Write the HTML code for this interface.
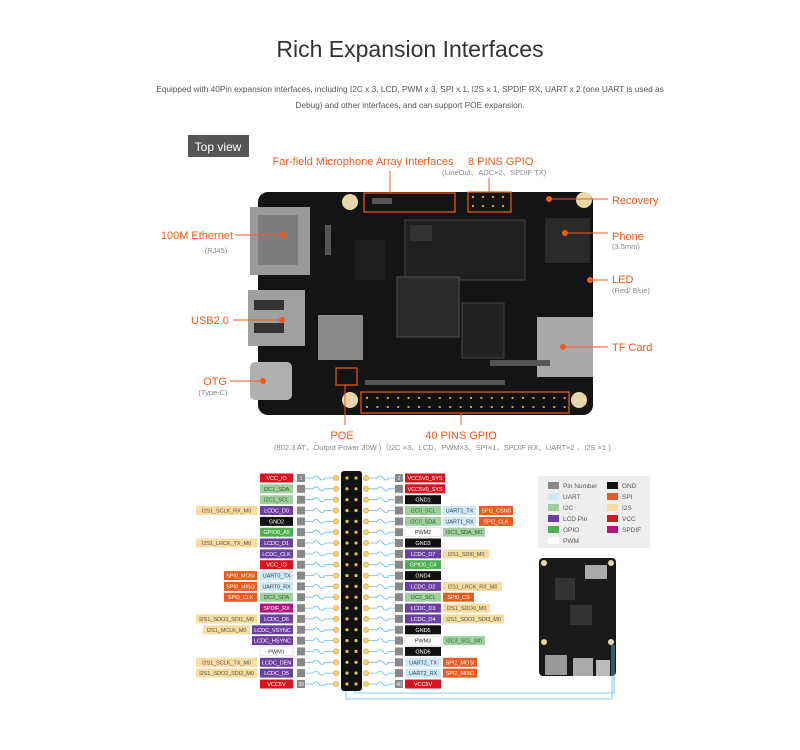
<!DOCTYPE html>
<html><head><meta charset="utf-8"><style>
body{margin:0;background:#fff;width:800px;height:745px;overflow:hidden;font-family:"Liberation Sans",sans-serif}
</style></head><body>
<svg width="800" height="745" viewBox="0 0 800 745" xmlns="http://www.w3.org/2000/svg" font-family="Liberation Sans, sans-serif">
<text x="410" y="57" font-size="23" fill="#333" text-anchor="middle">Rich Expansion Interfaces</text>
<text x="410" y="92" font-size="8.3" fill="#555" text-anchor="middle">Equipped with 40Pin expansion interfaces, including I2C x 3, LCD, PWM x 3, SPI x 1, I2S x 1, SPDIF RX, UART x 2 (one UART is used as</text>
<text x="410" y="108" font-size="8.3" fill="#555" text-anchor="middle">Debug) and other interfaces, and can support POE expansion.</text>
<rect x="188" y="135" width="61" height="22" fill="#555"/>
<text x="218" y="151" font-size="12" fill="#fff" text-anchor="middle">Top view</text>

<!-- board -->
<rect x="258" y="192" width="335" height="223" rx="10" fill="#141414"/>
<rect x="250" y="207" width="60" height="68" fill="#9a9a9a"/><rect x="258" y="215" width="40" height="50" fill="#7d7d7d"/>
<rect x="248" y="290" width="57" height="56" fill="#a0a0a0"/><rect x="254" y="300" width="30" height="10" fill="#333"/><rect x="254" y="323" width="30" height="10" fill="#333"/>
<rect x="250" y="362" width="42" height="38" rx="5" fill="#b0b0b0"/>
<rect x="537" y="317" width="56" height="60" fill="#a8a8a8"/>
<rect x="405" y="220" width="120" height="60" fill="#202020" stroke="#444"/>
<rect x="397" y="277" width="62" height="60" fill="#2a2a2a" stroke="#555"/>
<rect x="462" y="303" width="42" height="55" fill="#222" stroke="#444"/>
<rect x="318" y="315" width="45" height="45" fill="#8a8a8a"/>
<rect x="545" y="218" width="45" height="45" fill="#2a2a2a"/>
<rect x="410" y="225" width="22" height="16" fill="#333"/><rect x="355" y="240" width="30" height="40" fill="#1e1e1e"/>
<g fill="#555"><rect x="372" y="198" width="20" height="6"/><rect x="325" y="225" width="6" height="30"/><rect x="490" y="360" width="60" height="6"/><rect x="365" y="380" width="140" height="5"/></g>
<circle cx="350" cy="202" r="8" fill="#e8d8a8"/><circle cx="584" cy="200" r="8" fill="#e8d8a8"/><circle cx="350" cy="400" r="8" fill="#e8d8a8"/><circle cx="579" cy="400" r="8" fill="#e8d8a8"/>
<rect x="364" y="193" width="91" height="19" fill="none" stroke="#f05a1a" stroke-width="1.2"/>
<rect x="468" y="192" width="43" height="20" fill="none" stroke="#f05a1a" stroke-width="1.2"/>
<rect x="336" y="368" width="21" height="17" fill="none" stroke="#f05a1a" stroke-width="1.2"/>
<rect x="361" y="392" width="208" height="21" fill="#111" stroke="#f05a1a" stroke-width="1.2"/>
<g stroke="#c8a040" stroke-width="2" stroke-dasharray="2,8.4"><line x1="366" y1="398" x2="566" y2="398"/><line x1="366" y1="407" x2="566" y2="407"/></g>
<g fill="#c8a040"><circle cx="473" cy="197" r="1.2"/><circle cx="483" cy="197" r="1.2"/><circle cx="493" cy="197" r="1.2"/><circle cx="503" cy="197" r="1.2"/><circle cx="473" cy="206" r="1.2"/><circle cx="483" cy="206" r="1.2"/><circle cx="493" cy="206" r="1.2"/><circle cx="503" cy="206" r="1.2"/></g>
<g stroke="#f05a1a" stroke-width="1" fill="none">
<line x1="390" y1="171" x2="390" y2="193"/><line x1="489" y1="178" x2="489" y2="192"/>
<line x1="235" y1="235" x2="283" y2="235"/><line x1="233" y1="320" x2="282" y2="320"/><line x1="230" y1="381" x2="263" y2="381"/>
<line x1="345" y1="385" x2="345" y2="425"/><line x1="461" y1="413" x2="461" y2="425"/>
<line x1="549" y1="199" x2="608" y2="199"/><line x1="565" y1="233" x2="608" y2="233"/><line x1="590" y1="280" x2="608" y2="280"/><line x1="563" y1="347" x2="608" y2="347"/>
</g>
<g fill="#f05a1a"><circle cx="283" cy="235" r="3"/><circle cx="282" cy="320" r="3"/><circle cx="263" cy="381" r="3"/><circle cx="549" cy="199" r="3"/><circle cx="565" cy="233" r="3"/><circle cx="590" cy="280" r="3"/><circle cx="563" cy="347" r="3"/></g>
<g fill="#f05a1a" font-size="11">
<text x="363" y="165" text-anchor="middle">Far-field Microphone Array Interfaces</text>
<text x="468" y="165">8 PINS GPIO</text>
<text x="612" y="204">Recovery</text>
<text x="612" y="240">Phone</text>
<text x="612" y="283">LED</text>
<text x="612" y="351">TF Card</text>
<text x="233" y="239" text-anchor="end">100M Ethernet</text>
<text x="191" y="324">USB2.0</text>
<text x="227" y="385" text-anchor="end">OTG</text>
<text x="342" y="439" text-anchor="middle">POE</text>
<text x="461" y="439" text-anchor="middle">40 PINS GPIO</text>
</g>
<g fill="#888" font-size="7.5">
<text x="442" y="175">(LineOut、ADC×2、SPDIF TX)</text>
<text x="612" y="249">(3.5mm)</text>
<text x="612" y="293">(Red/ Blue)</text>
<text x="216" y="253" text-anchor="middle">(RJ45)</text>
<text x="213" y="395" text-anchor="middle">(Type-C)</text>
<text x="274" y="450">(802.3 AT、Output Power 30W )（I2C ×3、LCD、PWM×3、SPI×1、SPDIF RX、UART×2 、I2S ×1 )</text>
</g>

<!-- legend -->
<rect x="538" y="476" width="112" height="72" fill="#eee"/>
<g font-size="6.5" fill="#555">
<rect x="548" y="482" width="11" height="7" fill="#888"/><text x="563" y="488">Pin Number</text>
<rect x="548" y="493" width="11" height="7" fill="#cfe9f7"/><text x="563" y="499">UART</text>
<rect x="548" y="504" width="11" height="7" fill="#9fcf9f"/><text x="563" y="510">I2C</text>
<rect x="548" y="515" width="11" height="7" fill="#6b3fa0"/><text x="563" y="521">LCD Pin</text>
<rect x="548" y="526" width="11" height="7" fill="#4caf50"/><text x="563" y="532">GPIO</text>
<rect x="548" y="537" width="11" height="7" fill="#fff"/><text x="563" y="543">PWM</text>
<rect x="607" y="482" width="11" height="7" fill="#111"/><text x="622" y="488">GND</text>
<rect x="607" y="493" width="11" height="7" fill="#ea5a1c"/><text x="622" y="499">SPI</text>
<rect x="607" y="504" width="11" height="7" fill="#f9dca0"/><text x="622" y="510">I2S</text>
<rect x="607" y="515" width="11" height="7" fill="#d7141f"/><text x="622" y="521">VCC</text>
<rect x="607" y="526" width="11" height="7" fill="#b3157f"/><text x="622" y="532">SPDIF</text>
</g>

<!-- small board -->
<rect x="539" y="558" width="77" height="118" rx="4" fill="#1a1a1a"/>
<rect x="555" y="578" width="20" height="22" fill="#333"/><rect x="570" y="605" width="22" height="20" fill="#333"/>
<rect x="545" y="655" width="22" height="20" fill="#999"/><rect x="573" y="658" width="20" height="18" fill="#aaa"/><rect x="596" y="660" width="14" height="16" fill="#bbb"/>
<rect x="585" y="565" width="22" height="14" fill="#aaa"/>
<circle cx="544" cy="563" r="3" fill="#e8d8a8"/><circle cx="611" cy="563" r="3" fill="#e8d8a8"/><circle cx="544" cy="642" r="3" fill="#e8d8a8"/><circle cx="611" cy="642" r="3" fill="#e8d8a8"/>
<polyline points="346,690 346,699 612,699 612,645" fill="none" stroke="#6bb7e3" stroke-width="0.8"/>
<polyline points="355,690 355,693 614,693 614,645" fill="none" stroke="#6bb7e3" stroke-width="0.8"/>

<!-- header -->
<rect x="341" y="471" width="21" height="220" rx="3" fill="#111"/>

<defs>
<g id="row">
<rect x="297" y="-4" width="8" height="8" fill="#888"/>
<path d="M305,0 L313,0 q3,-4 6,0 t6,0 L333,0" fill="none" stroke="#6bb7e3" stroke-width="0.8"/>
<circle cx="336" cy="0" r="2.6" fill="#f5d070" stroke="#d4a030" stroke-width="0.6"/>
<circle cx="347" cy="0" r="1.6" fill="#e8c050"/><circle cx="356" cy="0" r="1.6" fill="#e8c050"/>
<circle cx="366" cy="0" r="2.6" fill="#f5d070" stroke="#d4a030" stroke-width="0.6"/>
<path d="M369,0 L377,0 q3,-4 6,0 t6,0 L395,0" fill="none" stroke="#6bb7e3" stroke-width="0.8"/>
<rect x="395" y="-4" width="8" height="8" fill="#888"/>
</g>
</defs>
<g font-size="5.6" text-anchor="middle" letter-spacing="-0.1">
<use href="#row" y="478"/><use href="#row" y="488.8"/><use href="#row" y="499.7"/><use href="#row" y="510.5"/><use href="#row" y="521.4"/><use href="#row" y="532.2"/><use href="#row" y="543"/><use href="#row" y="553.9"/><use href="#row" y="564.7"/><use href="#row" y="575.6"/><use href="#row" y="586.4"/><use href="#row" y="597.2"/><use href="#row" y="608.1"/><use href="#row" y="618.9"/><use href="#row" y="629.8"/><use href="#row" y="640.6"/><use href="#row" y="651.4"/><use href="#row" y="662.3"/><use href="#row" y="673.1"/><use href="#row" y="684"/>

<!-- left -->
<g transform="translate(0,478)"><rect x="260" y="-4.5" width="33" height="9" fill="#d7141f"/><text x="276.5" y="2" fill="#fff">VCC_IO</text></g>
<g transform="translate(0,488.8)"><rect x="260" y="-4.5" width="33" height="9" fill="#9fcf9f"/><text x="276.5" y="2" fill="#2f5f2f">I2C1_SDA</text></g>
<g transform="translate(0,499.7)"><rect x="260" y="-4.5" width="33" height="9" fill="#9fcf9f"/><text x="276.5" y="2" fill="#2f5f2f">I2C1_SCL</text></g>
<g transform="translate(0,510.5)"><rect x="260" y="-4.5" width="33" height="9" fill="#6b3fa0"/><text x="276.5" y="2" fill="#fff">LCDC_D0</text><rect x="196" y="-4.5" width="61" height="9" fill="#f9dca0"/><text x="226.5" y="2" fill="#555">I2S1_SCLK_RX_M0</text></g>
<g transform="translate(0,521.4)"><rect x="260" y="-4.5" width="33" height="9" fill="#111"/><text x="276.5" y="2" fill="#fff">GND2</text></g>
<g transform="translate(0,532.2)"><rect x="260" y="-4.5" width="33" height="9" fill="#4caf50"/><text x="276.5" y="2" fill="#fff">GPIO0_A5</text></g>
<g transform="translate(0,543)"><rect x="260" y="-4.5" width="33" height="9" fill="#6b3fa0"/><text x="276.5" y="2" fill="#fff">LCDC_D1</text><rect x="196" y="-4.5" width="61" height="9" fill="#f9dca0"/><text x="226.5" y="2" fill="#555">I2S1_LRCK_TX_M0</text></g>
<g transform="translate(0,553.9)"><rect x="260" y="-4.5" width="33" height="9" fill="#6b3fa0"/><text x="276.5" y="2" fill="#fff">LCDC_CLK</text></g>
<g transform="translate(0,564.7)"><rect x="260" y="-4.5" width="33" height="9" fill="#d7141f"/><text x="276.5" y="2" fill="#fff">VCC_IO</text></g>
<g transform="translate(0,575.6)"><rect x="260" y="-4.5" width="33" height="9" fill="#cfe9f7"/><text x="276.5" y="2" fill="#345">UART0_TX</text><rect x="224" y="-4.5" width="33" height="9" fill="#ea5a1c"/><text x="240.5" y="2" fill="#fff">SPI0_MOSI</text></g>
<g transform="translate(0,586.4)"><rect x="260" y="-4.5" width="33" height="9" fill="#cfe9f7"/><text x="276.5" y="2" fill="#345">UART0_RX</text><rect x="224" y="-4.5" width="33" height="9" fill="#ea5a1c"/><text x="240.5" y="2" fill="#fff">SPI0_MISO</text></g>
<g transform="translate(0,597.2)"><rect x="260" y="-4.5" width="33" height="9" fill="#9fcf9f"/><text x="276.5" y="2" fill="#2f5f2f">I2C2_SDA</text><rect x="224" y="-4.5" width="33" height="9" fill="#ea5a1c"/><text x="240.5" y="2" fill="#fff">SPI0_CLK</text></g>
<g transform="translate(0,608.1)"><rect x="260" y="-4.5" width="33" height="9" fill="#b3157f"/><text x="276.5" y="2" fill="#fff">SPDIF_RX</text></g>
<g transform="translate(0,618.9)"><rect x="260" y="-4.5" width="33" height="9" fill="#6b3fa0"/><text x="276.5" y="2" fill="#fff">LCDC_D6</text><rect x="196" y="-4.5" width="61" height="9" fill="#f9dca0"/><text x="226.5" y="2" fill="#555">I2S1_SDO3_SDI1_M0</text></g>
<g transform="translate(0,629.8)"><rect x="252" y="-4.5" width="41" height="9" fill="#6b3fa0"/><text x="272.5" y="2" fill="#fff">LCDC_VSYNC</text><rect x="203" y="-4.5" width="47" height="9" fill="#f9dca0"/><text x="226.5" y="2" fill="#555">I2S1_MCLK_M0</text></g>
<g transform="translate(0,640.6)"><rect x="252" y="-4.5" width="41" height="9" fill="#6b3fa0"/><text x="272.5" y="2" fill="#fff">LCDC_HSYNC</text></g>
<g transform="translate(0,651.4)"><rect x="260" y="-4.5" width="33" height="9" fill="#fff" stroke="#ccc" stroke-width="0.5"/><text x="276.5" y="2" fill="#333">PWM1</text></g>
<g transform="translate(0,662.3)"><rect x="260" y="-4.5" width="33" height="9" fill="#6b3fa0"/><text x="276.5" y="2" fill="#fff">LCDC_DEN</text><rect x="196" y="-4.5" width="61" height="9" fill="#f9dca0"/><text x="226.5" y="2" fill="#555">I2S1_SCLK_TX_M0</text></g>
<g transform="translate(0,673.1)"><rect x="260" y="-4.5" width="33" height="9" fill="#6b3fa0"/><text x="276.5" y="2" fill="#fff">LCDC_D5</text><rect x="196" y="-4.5" width="61" height="9" fill="#f9dca0"/><text x="226.5" y="2" fill="#555">I2S1_SDO2_SDI2_M0</text></g>
<g transform="translate(0,684)"><rect x="260" y="-4.5" width="33" height="9" fill="#d7141f"/><text x="276.5" y="2" fill="#fff">VCC5V</text></g>

<!-- right -->
<g transform="translate(0,478)"><rect x="405" y="-4.5" width="40" height="9" fill="#d7141f"/><text x="425" y="2" fill="#fff">VCC5V0_SYS</text></g>
<g transform="translate(0,488.8)"><rect x="405" y="-4.5" width="40" height="9" fill="#d7141f"/><text x="425" y="2" fill="#fff">VCC5V0_SYS</text></g>
<g transform="translate(0,499.7)"><rect x="405" y="-4.5" width="36" height="9" fill="#111"/><text x="423" y="2" fill="#fff">GND1</text></g>
<g transform="translate(0,510.5)"><rect x="405" y="-4.5" width="36" height="9" fill="#9fcf9f"/><text x="423" y="2" fill="#2f5f2f">I2C0_SCL</text><rect x="443" y="-4.5" width="33" height="9" fill="#cfe9f7"/><text x="459.5" y="2" fill="#345">UART1_TX</text><rect x="479" y="-4.5" width="34" height="9" fill="#ea5a1c"/><text x="496" y="2" fill="#fff">SPI2_CSN0</text></g>
<g transform="translate(0,521.4)"><rect x="405" y="-4.5" width="36" height="9" fill="#9fcf9f"/><text x="423" y="2" fill="#2f5f2f">I2C0_SDA</text><rect x="443" y="-4.5" width="33" height="9" fill="#cfe9f7"/><text x="459.5" y="2" fill="#345">UART1_RX</text><rect x="479" y="-4.5" width="34" height="9" fill="#ea5a1c"/><text x="496" y="2" fill="#fff">SPI2_CLK</text></g>
<g transform="translate(0,532.2)"><rect x="405" y="-4.5" width="36" height="9" fill="#fff" stroke="#ccc" stroke-width="0.5"/><text x="423" y="2" fill="#333">PWM2</text><rect x="443" y="-4.5" width="42" height="9" fill="#9fcf9f"/><text x="464" y="2" fill="#2f5f2f">I2C3_SDA_M0</text></g>
<g transform="translate(0,543)"><rect x="405" y="-4.5" width="36" height="9" fill="#111"/><text x="423" y="2" fill="#fff">GND3</text></g>
<g transform="translate(0,553.9)"><rect x="405" y="-4.5" width="36" height="9" fill="#6b3fa0"/><text x="423" y="2" fill="#fff">LCDC_D7</text><rect x="443" y="-4.5" width="46" height="9" fill="#f9dca0"/><text x="466" y="2" fill="#555">I2S1_SDI0_M0</text></g>
<g transform="translate(0,564.7)"><rect x="405" y="-4.5" width="36" height="9" fill="#4caf50"/><text x="423" y="2" fill="#fff">GPIO0_C4</text></g>
<g transform="translate(0,575.6)"><rect x="405" y="-4.5" width="36" height="9" fill="#111"/><text x="423" y="2" fill="#fff">GND4</text></g>
<g transform="translate(0,586.4)"><rect x="405" y="-4.5" width="36" height="9" fill="#6b3fa0"/><text x="423" y="2" fill="#fff">LCDC_D2</text><rect x="443" y="-4.5" width="59" height="9" fill="#f9dca0"/><text x="472.5" y="2" fill="#555">I2S1_LRCK_RX_M0</text></g>
<g transform="translate(0,597.2)"><rect x="405" y="-4.5" width="36" height="9" fill="#9fcf9f"/><text x="423" y="2" fill="#2f5f2f">I2C2_SCL</text><rect x="443" y="-4.5" width="31" height="9" fill="#ea5a1c"/><text x="458.5" y="2" fill="#fff">SPI0_CS</text></g>
<g transform="translate(0,608.1)"><rect x="405" y="-4.5" width="36" height="9" fill="#6b3fa0"/><text x="423" y="2" fill="#fff">LCDC_D3</text><rect x="443" y="-4.5" width="47" height="9" fill="#f9dca0"/><text x="466.5" y="2" fill="#555">I2S1_SDO0_M0</text></g>
<g transform="translate(0,618.9)"><rect x="405" y="-4.5" width="36" height="9" fill="#6b3fa0"/><text x="423" y="2" fill="#fff">LCDC_D4</text><rect x="443" y="-4.5" width="61" height="9" fill="#f9dca0"/><text x="473.5" y="2" fill="#555">I2S1_SDO1_SDI3_M0</text></g>
<g transform="translate(0,629.8)"><rect x="405" y="-4.5" width="36" height="9" fill="#111"/><text x="423" y="2" fill="#fff">GND5</text></g>
<g transform="translate(0,640.6)"><rect x="405" y="-4.5" width="36" height="9" fill="#fff" stroke="#ccc" stroke-width="0.5"/><text x="423" y="2" fill="#333">PWM3</text><rect x="443" y="-4.5" width="42" height="9" fill="#9fcf9f"/><text x="464" y="2" fill="#2f5f2f">I2C3_SCL_M0</text></g>
<g transform="translate(0,651.4)"><rect x="405" y="-4.5" width="36" height="9" fill="#111"/><text x="423" y="2" fill="#fff">GND6</text></g>
<g transform="translate(0,662.3)"><rect x="405" y="-4.5" width="36" height="9" fill="#cfe9f7"/><text x="423" y="2" fill="#345">UART2_TX</text><rect x="443" y="-4.5" width="34" height="9" fill="#ea5a1c"/><text x="460" y="2" fill="#fff">SPI2_MOSI</text></g>
<g transform="translate(0,673.1)"><rect x="405" y="-4.5" width="36" height="9" fill="#cfe9f7"/><text x="423" y="2" fill="#345">UART2_RX</text><rect x="443" y="-4.5" width="34" height="9" fill="#ea5a1c"/><text x="460" y="2" fill="#fff">SPI2_MISO</text></g>
<g transform="translate(0,684)"><rect x="405" y="-4.5" width="36" height="9" fill="#d7141f"/><text x="423" y="2" fill="#fff">VCC5V</text></g>
</g>
<g font-size="5" fill="#fff" text-anchor="middle">
<text x="301" y="480">1</text><text x="399" y="480">2</text><text x="301" y="686">39</text><text x="399" y="686">40</text>
</g>
</svg>
</body></html>
